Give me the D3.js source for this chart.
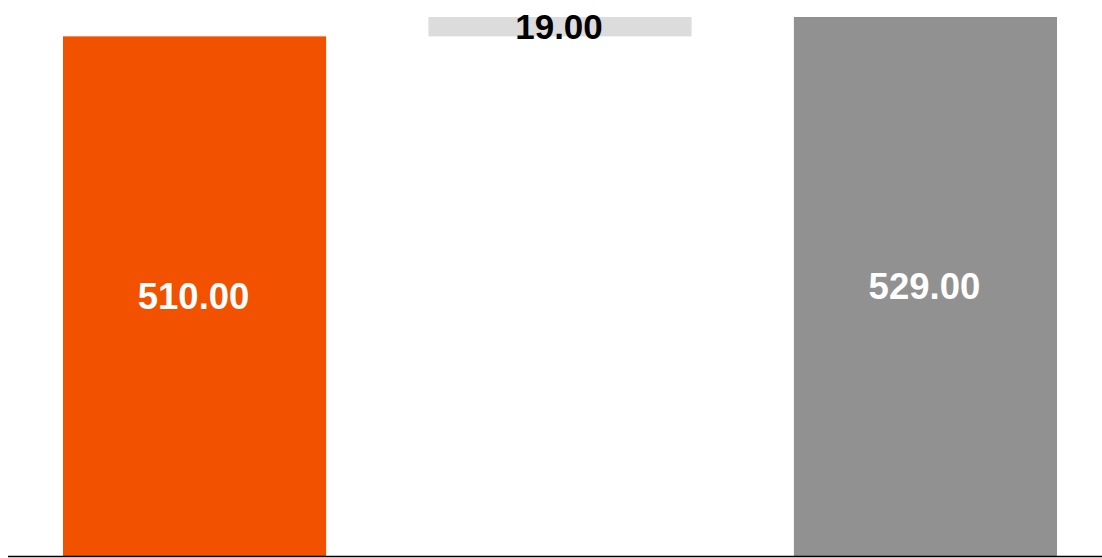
<!DOCTYPE html>
<html>
<head>
<meta charset="utf-8">
<script src="https://cdn.jsdelivr.net/npm/d3@7"></script>
<style>
  html, body { margin: 0; padding: 0; background: #fff; }
  svg { display: block; }
</style>
</head>
<body>
<svg id="chart" width="1102" height="558"></svg>
<script>
const categories = ["Start", "Change", "End"];
const barTypes = ["total", "delta", "total"];
const values = [510, 19, 529];
const labels = ["510.00", "19.00", "529.00"];
const colors = ["#F25100", "#DCDCDC", "#919191"];
const labelColors = ["#ffffff", "#000000", "#ffffff"];
const labelSizes = [36.5, 35, 36.5];

let running = 0;
const segs = categories.map((c, i) => {
  let y0, y1;
  if (barTypes[i] === "total") { y0 = 0; y1 = values[i]; running = values[i]; }
  else { y0 = running; y1 = running + values[i]; running = y1; }
  return { cat: c, y0, y1, label: labels[i], color: colors[i], lc: labelColors[i], fs: labelSizes[i] };
});

const svg = d3.select("#chart");
const x = d3.scaleBand().domain(categories).range([63, 1057]).paddingInner(0.28).paddingOuter(0);
const y = d3.scaleLinear().domain([0, 529]).range([556, 17]);

svg.selectAll("rect.bar").data(segs).enter().append("rect")
  .attr("class", "bar")
  .attr("x", d => x(d.cat))
  .attr("width", x.bandwidth())
  .attr("y", d => y(d.y1))
  .attr("height", d => y(d.y0) - y(d.y1))
  .attr("fill", d => d.color);

svg.selectAll("text.lbl").data(segs).enter().append("text")
  .attr("class", "lbl")
  .attr("x", d => x(d.cat) + x.bandwidth() / 2 - 1)
  .attr("y", d => (y(d.y0) + y(d.y1)) / 2)
  .attr("text-anchor", "middle")
  .attr("dominant-baseline", "central")
  .attr("font-family", "Liberation Sans, Arial, sans-serif")
  .attr("font-weight", "bold")
  .attr("font-size", d => d.fs)
  .attr("fill", d => d.lc)
  .text(d => d.label);

const axis = d3.axisBottom(x).tickSize(0).tickFormat("");
const g = svg.append("g").attr("transform", "translate(0,556)").call(axis);
g.select(".domain").attr("d", "M8,0.5H1102").attr("stroke", "#000").attr("stroke-width", 1.5);
</script>
</body>
</html>
